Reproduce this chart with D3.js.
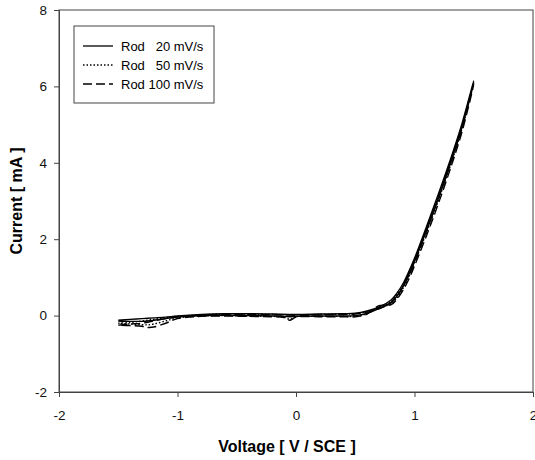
<html>
<head>
<meta charset="utf-8">
<title>Rod CV</title>
<style>
  body { margin: 0; background: #fff; }
  text { font-family: "Liberation Sans", Arial, sans-serif; }
</style>
<script src="https://d3js.org/d3.v7.min.js"></script>
</head>
<body>
<svg width="535" height="460"></svg>
<script>
// voltage sweeps (V / SCE)
var vFwd = [-1.5,-1.4,-1.3,-1.2,-1.1,-1.0,-0.8,-0.6,-0.4,-0.2,0,0.2,0.4,0.5,0.6,0.7,0.8,0.85,0.9,0.95,1.0,1.1,1.2,1.3,1.4,1.5];
var vRev = [1.5,1.4,1.3,1.2,1.1,1.0,0.95,0.9,0.85,0.8,0.7,0.6,0.5,0.4,0.2,0.0,-0.05,-0.1,-0.2,-0.4,-0.6,-0.8,-1.0,-1.1,-1.2,-1.25,-1.3,-1.4,-1.5];

// currents (mA)
var rod20Fwd = [-0.12,-0.10,-0.08,-0.06,-0.04,-0.01,0.03,0.05,0.05,0.04,0.03,0.04,0.05,0.06,0.12,0.22,0.40,0.58,0.82,1.14,1.5,2.32,3.17,4.06,5.02,6.15];
var rod20Rev = [6.15,4.92,3.95,3.05,2.22,1.42,1.06,0.74,0.50,0.34,0.18,0.06,0.0,-0.01,-0.01,-0.02,-0.03,-0.02,-0.01,0.0,0.01,0.0,-0.04,-0.08,-0.12,-0.14,-0.15,-0.15,-0.14];
var rod50Fwd = [-0.2,-0.18,-0.14,-0.1,-0.05,-0.02,0.02,0.04,0.04,0.03,0.02,0.03,0.04,0.05,0.10,0.20,0.36,0.54,0.78,1.08,1.44,2.26,3.12,4.0,4.98,6.1];
var rod50Rev = [6.1,4.88,3.9,3.0,2.16,1.38,1.0,0.7,0.46,0.30,0.22,0.05,-0.02,-0.02,-0.02,-0.03,-0.10,-0.04,-0.02,-0.01,0.0,-0.01,-0.06,-0.14,-0.22,-0.24,-0.24,-0.22,-0.2];
var rod100Fwd = [-0.25,-0.22,-0.2,-0.14,-0.08,-0.03,0.01,0.03,0.03,0.02,0.01,0.02,0.03,0.04,0.09,0.18,0.33,0.5,0.74,1.04,1.4,2.2,3.06,3.95,4.92,6.05];
var rod100Rev = [6.05,4.8,3.82,2.92,2.08,1.3,0.94,0.65,0.42,0.28,0.26,0.04,-0.03,-0.03,-0.03,-0.04,-0.12,-0.05,-0.03,-0.02,-0.01,-0.02,-0.08,-0.2,-0.3,-0.31,-0.28,-0.26,-0.25];

var seriesNames = ["Rod   20 mV/s", "Rod   50 mV/s", "Rod 100 mV/s"];
var xTicks = [-2,-1,0,1,2];
var yTicks = [-2,0,2,4,6,8];

var svg = d3.select("svg"),
    margin = {top: 10, right: 2, bottom: 68, left: 59},
    width = 535 - margin.left - margin.right,
    height = 460 - margin.top - margin.bottom,
    g = svg.append("g").attr("transform", `translate(${margin.left},${margin.top})`);

var x = d3.scaleLinear().domain([-2, 2]).range([0, width]);
var y = d3.scaleLinear().domain([-2, 8]).range([height, 0]);

function loop(fwdI, revI) {
  var pts = vFwd.map((v, i) => [v, fwdI[i]]);
  return pts.concat(vRev.map((v, i) => [v, revI[i]]).slice(1));
}
var series = [
  {name: seriesNames[0], pts: loop(rod20Fwd, rod20Rev), dash: null},
  {name: seriesNames[1], pts: loop(rod50Fwd, rod50Rev), dash: "1.5,2"},
  {name: seriesNames[2], pts: loop(rod100Fwd, rod100Rev), dash: "9,4"}
];

// frame
g.append("rect")
  .attr("width", width).attr("height", height)
  .attr("fill", "none").attr("stroke", "#444").attr("stroke-width", 1);

var xAxis = g.append("g")
  .attr("transform", `translate(0,${height})`)
  .call(d3.axisBottom(x).tickValues(xTicks).tickSize(5).tickPadding(13).tickFormat(d => String(d)));
var yAxis = g.append("g")
  .call(d3.axisLeft(y).tickValues(yTicks).tickSize(5).tickPadding(7).tickFormat(d => String(d)));
[xAxis, yAxis].forEach(a => {
  a.select(".domain").attr("stroke", "#444");
  a.selectAll("line").attr("stroke", "#444");
  a.selectAll("text").style("font-size", "13.5px").attr("fill", "#111");
});

var line = d3.line()
  .x(d => x(d[0]))
  .y(d => y(d[1]))
  .curve(d3.curveCatmullRom.alpha(0.5));

g.selectAll(".cv")
  .data(series)
  .enter()
  .append("path")
    .attr("class", "cv")
    .attr("d", d => line(d.pts))
    .attr("fill", "none")
    .attr("stroke", "#000")
    .attr("stroke-width", 1.4)
    .attr("stroke-dasharray", d => d.dash);

// axis titles
svg.append("text")
  .attr("x", 287)
  .attr("y", 452)
  .attr("text-anchor", "middle")
  .style("font-size", "16px").style("font-weight", "bold")
  .text("Voltage [ V / SCE ]");
svg.append("text")
  .attr("transform", `translate(22,${margin.top + height / 2}) rotate(-90)`)
  .attr("text-anchor", "middle")
  .style("font-size", "16px").style("font-weight", "bold")
  .text("Current [ mA ]");

// legend
var lg = svg.append("g").attr("transform", "translate(74,26)");
lg.append("rect")
  .attr("width", 140).attr("height", 77)
  .attr("fill", "#fff").attr("stroke", "#444");
var items = lg.selectAll(".item")
  .data(series)
  .enter()
  .append("g")
  .attr("transform", (d, i) => `translate(0,${20 + i * 19})`);
items.append("line")
  .attr("x1", 9).attr("x2", 39)
  .attr("stroke", "#000").attr("stroke-width", 1.3)
  .attr("stroke-dasharray", d => d.dash);
items.append("text")
  .attr("x", 47).attr("dy", "0.35em")
  .style("font-size", "13px").style("white-space", "pre")
  .attr("xml:space", "preserve")
  .text(d => d.name);
</script>
</body>
</html>
